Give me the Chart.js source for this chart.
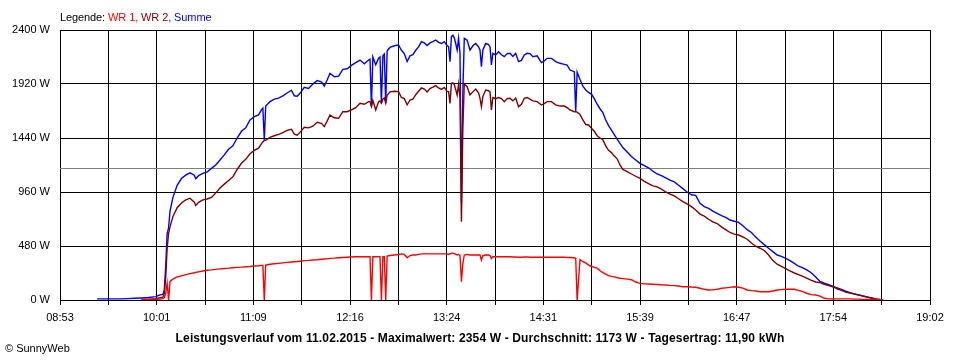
<!DOCTYPE html>
<html><head><meta charset="utf-8">
<script src="https://cdn.jsdelivr.net/npm/chart.js@4"></script>
<style>
html,body{margin:0;padding:0;background:#fff;}
#wrap{position:relative;width:960px;height:360px;overflow:hidden;}
canvas{position:absolute;left:0;top:0;}
.t{position:absolute;font-family:"Liberation Sans",Arial,sans-serif;font-size:11px;white-space:nowrap;line-height:1;color:#000;}
</style></head><body>
<div id="wrap">
<canvas id="c" width="960" height="360"></canvas>
<div class="t" id="legend" style="left:60px;top:12px;letter-spacing:-0.1px;">Legende: <span style="color:#ff0000">WR 1,</span> <span style="color:#800000">WR 2,</span> <span style="color:#0000ff">Summe</span></div>
<div class="t" id="title" style="left:0;width:960px;text-align:center;top:332px;font-weight:bold;font-size:12px;letter-spacing:0.14px;">Leistungsverlauf vom 11.02.2015 - Maximalwert: 2354 W - Durchschnitt: 1173 W - Tagesertrag: 11,90 kWh</div>
<div class="t" style="left:5px;top:343px;">© SunnyWeb</div>
</div>
<script>
const tickLabels = ["08:53","10:01","11:09","12:16","13:24","14:31","15:39","16:47","17:54","19:02"];
const yTicks = [0,480,960,1440,1920,2400];
const averageW = 1173;

const times = ["09:19","09:25","09:30","09:35","09:40","09:45","09:50","09:55","10:00","10:03","10:05","10:06","10:07","10:08","10:09","10:10","10:12","10:15","10:18","10:21","10:24","10:27","10:28","10:30","10:33","10:36","10:39","10:42","10:45","10:48","10:51","10:54","10:57","11:00","11:03","11:06","11:09","11:12","11:14","11:15","11:16","11:17","11:20","11:23","11:26","11:29","11:32","11:35","11:37","11:39","11:41","11:44","11:47","11:50","11:53","11:56","11:58","12:00","12:02","12:05","12:08","12:11","12:14","12:17","12:20","12:23","12:26","12:29","12:30","12:31","12:32","12:34","12:36","12:37","12:38","12:39","12:40","12:41","12:42","12:44","12:47","12:50","12:52","12:54","12:56","12:58","13:00","13:02","13:04","13:06","13:08","13:10","13:12","13:14","13:16","13:18","13:20","13:22","13:24","13:25","13:26","13:27","13:28","13:29","13:30","13:31","13:32","13:33","13:34","13:35","13:36","13:38","13:40","13:42","13:44","13:46","13:47","13:48","13:49","13:51","13:53","13:54","13:55","13:56","13:58","14:00","14:02","14:04","14:06","14:08","14:10","14:12","14:14","14:16","14:18","14:20","14:22","14:24","14:27","14:30","14:32","14:34","14:37","14:40","14:43","14:46","14:48","14:50","14:53","14:54","14:55","14:57","14:59","15:01","15:03","15:05","15:07","15:09","15:11","15:13","15:15","15:17","15:19","15:21","15:23","15:25","15:27","15:30","15:33","15:36","15:39","15:42","15:45","15:48","15:51","15:54","15:57","16:00","16:03","16:06","16:09","16:12","16:15","16:18","16:21","16:24","16:27","16:30","16:33","16:36","16:39","16:42","16:45","16:48","16:51","16:54","16:57","17:00","17:03","17:06","17:09","17:12","17:15","17:18","17:21","17:24","17:27","17:30","17:33","17:36","17:39","17:42","17:45","17:48","17:51","17:54","17:57","18:00","18:03","18:06","18:09","18:12","18:15","18:18","18:21","18:24","18:27","18:29"];

const summe = [10,10,10,10,12,15,18,22,30,45,50,90,300,590,640,790,910,1020,1080,1110,1130,1110,1078,1105,1125,1138,1170,1200,1245,1290,1340,1370,1440,1500,1530,1600,1630,1645,1690,1705,1425,1725,1763,1785,1795,1815,1840,1865,1815,1812,1837,1890,1880,1920,1950,1940,1902,1955,2015,1985,1990,2050,2055,2085,2110,2133,2100,2133,2140,1720,2160,2090,2150,2160,1750,2170,2185,1750,2215,2245,2260,2267,2220,2190,2120,2170,2180,2220,2250,2296,2285,2262,2285,2296,2311,2290,2280,2296,2260,2252,2119,2341,2354,2330,2280,2222,2326,2193,859,1852,2326,2310,2222,2260,2280,2250,2222,2074,2222,2281,2270,2250,2089,2193,2178,2207,2180,2163,2190,2193,2165,2193,2119,2130,2178,2193,2190,2163,2170,2110,2125,2148,2148,2119,2104,2095,2089,2044,2030,1674,2025,1960,1900,1867,1845,1830,1790,1740,1700,1665,1600,1550,1510,1470,1430,1393,1355,1315,1275,1245,1215,1195,1175,1145,1120,1105,1085,1065,1050,1020,990,960,935,930,860,830,815,790,770,750,735,711,700,690,660,625,600,560,525,492,460,430,400,388,370,350,325,300,285,265,240,205,165,150,136,120,108,95,78,65,52,45,36,26,18,8,3,0];

const wr2 = [null,null,null,null,null,null,5,8,12,20,25,60,200,460,590,650,740,820,862,890,905,870,840,868,890,898,912,950,995,1030,1062,1095,1160,1215,1250,1300,1330,1350,1390,1405,1420,1420,1445,1460,1472,1488,1508,1518,1475,1465,1490,1535,1530,1545,1580,1570,1541,1590,1644,1620,1615,1674,1674,1690,1710,1748,1740,1763,1763,1720,1775,1690,1763,1770,1750,1785,1795,1750,1820,1850,1855,1852,1800,1790,1735,1778,1785,1825,1855,1885,1875,1850,1880,1892,1905,1885,1872,1890,1855,1852,1748,1926,1930,1915,1870,1822,1920,1800,696,1526,1920,1896,1822,1850,1875,1840,1793,1718,1810,1867,1860,1850,1689,1800,1790,1800,1790,1763,1790,1793,1770,1795,1718,1740,1793,1800,1785,1770,1763,1733,1745,1763,1763,1735,1724,1724,1710,1689,1674,1674,1670,1650,1600,1560,1556,1526,1500,1460,1440,1425,1370,1330,1310,1280,1255,1200,1160,1142,1120,1100,1081,1055,1035,1015,1005,985,960,942,925,900,875,855,830,800,764,745,718,695,680,650,625,600,585,578,560,540,506,478,460,440,400,350,318,298,278,258,240,225,210,192,175,160,154,140,128,118,100,85,70,62,55,45,36,28,18,10,4,0];

const wr1 = [null,null,null,null,null,null,2,3,5,8,12,20,60,150,0,165,185,205,215,225,235,242,245,250,258,265,268,272,277,280,283,287,290,292,295,298,302,305,308,308,0,310,318,322,326,330,334,338,340,342,345,350,352,355,358,362,364,366,370,372,375,378,380,382,384,385,385,385,385,0,385,385,386,386,0,386,386,0,390,395,400,405,410,405,375,395,400,400,405,410,410,410,410,410,410,410,410,410,410,405,410,415,415,412,405,400,405,395,163,326,400,405,400,400,400,400,400,355,395,400,400,395,370,385,385,385,385,385,385,385,382,382,380,380,382,382,380,380,380,380,380,380,380,380,380,380,378,378,375,370,0,360,340,330,310,300,290,283,260,243,230,216,210,205,198,193,190,186,180,160,148,143,142,140,138,135,133,130,128,125,118,118,115,113,104,95,89,90,95,104,108,112,118,113,105,89,83,80,74,74,74,80,89,92,95,95,95,85,74,58,48,44,35,15,10,10,10,10,10,10,8,8,6,5,5,3,2,0,0];

const toMin = s => { const p = s.split(':').map(Number); return p[0]*60 + p[1]; };
const xs = times.map(toMin);
const pts = arr => arr.map((v,i) => ({x: xs[i], y: v}));
const xMin = toMin(tickLabels[0]);
const xMax = toMin(tickLabels[tickLabels.length-1]);
const nGrid = (tickLabels.length - 1) * 2;

Chart.defaults.font.family = '"Liberation Sans", Arial, sans-serif';
Chart.defaults.font.size = 11;
Chart.defaults.color = '#000';

const avgPlugin = {
  id: 'avgLine',
  beforeDatasetsDraw(chart) {
    const {ctx, chartArea: a, scales: {y}} = chart;
    const py = Math.round(y.getPixelForValue(averageW)) + 0.5;
    ctx.save();
    ctx.strokeStyle = '#808080';
    ctx.lineWidth = 1;
    ctx.beginPath();
    ctx.moveTo(a.left, py);
    ctx.lineTo(a.right, py);
    ctx.stroke();
    ctx.restore();
  }
};

const ds = (label, data, color) => ({
  label, data: pts(data), borderColor: color, backgroundColor: color,
  borderWidth: 1.4, pointRadius: 0, tension: 0, fill: false, spanGaps: false
});

new Chart(document.getElementById('c'), {
  type: 'line',
  data: {
    datasets: [
      ds('WR 1', wr1, '#ff0000'),
      ds('WR 2', wr2, '#800000'),
      ds('Summe', summe, '#0000ff')
    ]
  },
  options: {
    responsive: false,
    animation: false,
    events: [],
    layout: {padding: {top: 30, right: 30, left: 0, bottom: 0}},
    plugins: {legend: {display: false}, tooltip: {enabled: false}, title: {display: false}},
    scales: {
      x: {
        type: 'linear', min: xMin, max: xMax,
        afterBuildTicks: s => {
          s.ticks = Array.from({length: nGrid + 1}, (_, i) => ({value: xMin + i * (xMax - xMin) / nGrid}));
        },
        afterFit: s => { s.height = 60; },
        ticks: {
          autoSkip: false, maxRotation: 0, padding: 6,
          callback: (v, i) => (i % 2 === 0 ? tickLabels[i / 2] : '')
        },
        grid: {color: '#000', lineWidth: 1, tickLength: 5, drawTicks: true},
        border: {color: '#000'}
      },
      y: {
        min: yTicks[0], max: yTicks[yTicks.length-1],
        afterBuildTicks: s => { s.ticks = yTicks.map(v => ({value: v})); },
        afterFit: s => { s.width = 60; },
        ticks: {padding: 10, callback: v => v + ' W'},
        grid: {color: '#000', lineWidth: 1, drawTicks: false},
        border: {color: '#000'}
      }
    }
  },
  plugins: [avgPlugin]
});
</script>
</body></html>
